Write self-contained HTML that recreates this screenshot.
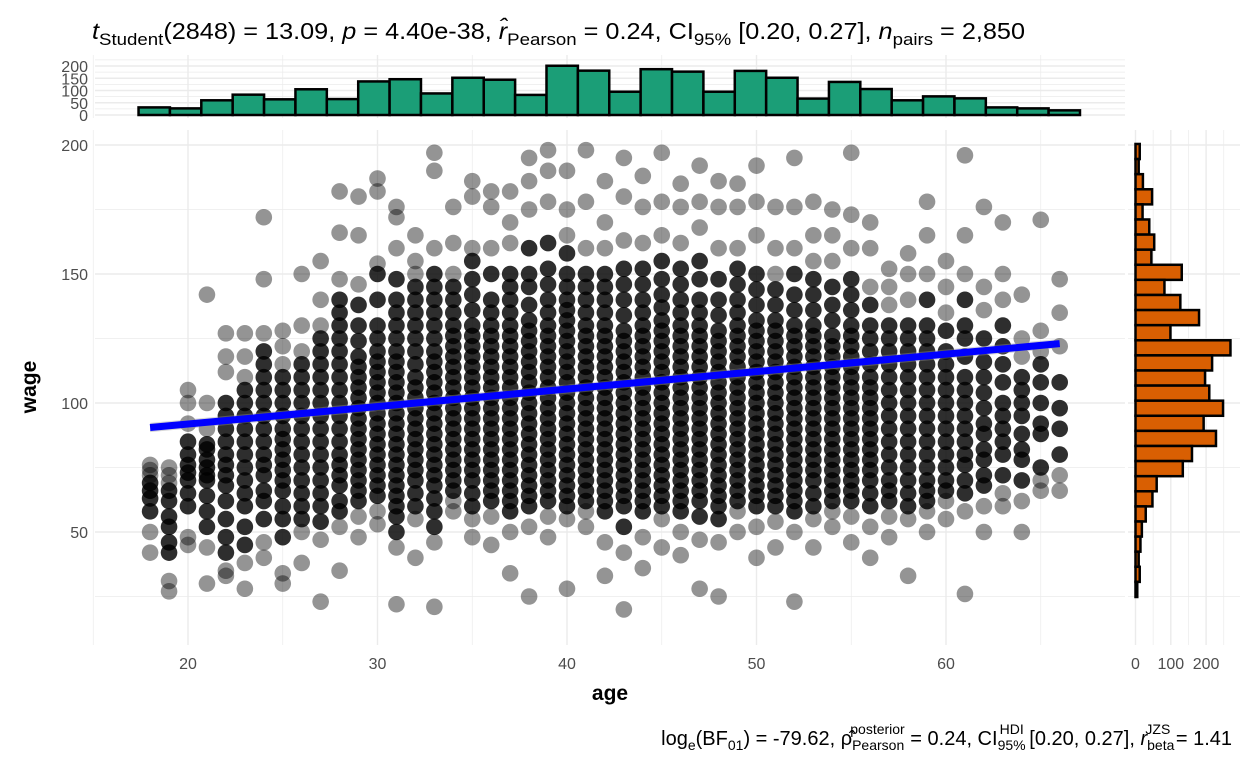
<!DOCTYPE html>
<html><head><meta charset="utf-8">
<style>
html,body{margin:0;padding:0;background:#fff;}
svg{display:block;font-family:"Liberation Sans",Arial,sans-serif;}
</style></head>
<body>
<svg id="chart" width="1248" height="768" viewBox="0 0 1248 768" xmlns="http://www.w3.org/2000/svg">
<rect width="1248" height="768" fill="#fff"/>
<g id="grid"></g>
<g id="tophist"></g>
<g id="righthist"></g>
<g id="points"></g>
<g id="fit"></g>
<g id="ticks" font-size="16" fill="#4d4d4d"></g>
<text x="610" y="700" font-size="21" font-weight="bold" text-anchor="middle">age</text>
<text x="0" y="0" font-size="21" font-weight="bold" text-anchor="middle" transform="translate(36,387) rotate(-90)">wage</text>
<text x="92" y="39" font-size="23" textLength="933" lengthAdjust="spacingAndGlyphs"><tspan font-style="italic">t</tspan><tspan font-size="17" dy="6">Student</tspan><tspan dy="-6">(2848) = 13.09, </tspan><tspan font-style="italic">p</tspan><tspan> = 4.40e-38, </tspan><tspan font-style="italic">r̂</tspan><tspan font-size="17" dy="6">Pearson</tspan><tspan dy="-6"> = 0.24, CI</tspan><tspan font-size="17" dy="6">95%</tspan><tspan dy="-6"> [0.20, 0.27], </tspan><tspan font-style="italic">n</tspan><tspan font-size="17" dy="6">pairs</tspan><tspan dy="-6"> = 2,850</tspan></text>
<text x="1232" y="745" font-size="20" text-anchor="end">log<tspan font-size="14" dy="5">e</tspan><tspan dy="-5">(BF</tspan><tspan font-size="14" dy="5">01</tspan><tspan dy="-5">) = -79.62, ρ̂</tspan><tspan font-size="14" dy="5">Pearson</tspan><tspan font-size="14" dx="-54" dy="-16">posterior</tspan><tspan dy="11"> = 0.24, CI</tspan><tspan font-size="14" dy="5">95%</tspan><tspan font-size="14" dx="-26" dy="-16">HDI</tspan><tspan dy="11"> [0.20, 0.27], </tspan><tspan font-style="italic">r</tspan><tspan font-size="14" dy="5">beta</tspan><tspan font-size="14" dx="-29" dy="-16">JZS</tspan><tspan dy="11"> = 1.41</tspan></text>
</svg>
<script>
const ages=[18,19,20,21,22,23,24,25,26,27,28,29,30,31,32,33,34,35,36,37,38,39,40,41,42,43,44,45,46,47,48,49,50,51,52,53,54,55,56,57,58,59,60,61,62,63,64,65,66];
const wageByAge=[
[42,50,58,63,66,69,72,74,76],
[27,31,42,46,52,56,62,66,69,72,75],
[45,48,60,65,70,73,76,80,85,92,100,105],
[30,44,52,58,64,70,72,75,78,82,84,90,100,142],
[33,35,42,48,55,62,68,72,76,80,85,90,95,100,112,118,127],
[28,38,45,52,60,65,70,75,80,85,90,95,100,105,110,118,127],
[40,46,55,62,66,72,76,80,85,90,95,100,105,110,115,120,127,148,172],
[30,34,48,55,60,66,70,74,78,82,86,90,95,100,105,110,115,122,128],
[38,50,55,60,65,70,75,80,85,90,95,100,105,110,115,120,130,150],
[23,47,54,60,65,70,75,80,85,90,95,100,105,110,115,120,125,130,140,155],
[35,52,58,62,68,72,76,80,85,90,95,100,105,110,115,120,125,130,135,140,148,166,182],
[48,56,62,66,70,74,78,82,86,90,94,98,102,106,110,114,118,124,130,138,146,165,180],
[53,58,64,68,72,76,80,84,88,92,96,100,104,108,112,116,120,125,130,140,150,154,182,187],
[22,44,50,56,60,64,68,72,76,80,84,88,92,96,100,104,108,112,116,120,125,130,135,140,148,160,172,176],
[40,55,60,65,70,74,78,82,86,90,94,98,102,106,110,115,120,125,130,135,140,145,150,155,165],
[21,46,52,58,63,68,72,76,80,84,88,92,96,100,104,108,112,116,120,125,130,135,140,145,150,160,190,197],
[58,62,66,70,74,78,82,86,90,94,98,102,106,110,114,118,122,126,130,135,140,145,150,162,176],
[48,55,60,65,70,74,78,82,86,90,94,98,102,106,110,114,118,122,126,130,136,142,148,155,160,180,186],
[45,56,62,66,70,74,78,82,86,90,94,98,102,106,110,114,118,122,126,130,135,140,150,160,176,182],
[34,50,58,62,66,70,74,78,82,86,90,94,98,102,106,110,114,118,122,126,130,135,140,145,150,162,170,182],
[25,52,60,64,68,72,76,80,84,88,92,96,100,104,108,112,116,120,124,128,132,138,145,150,160,175,186,195],
[48,56,62,66,70,74,78,82,86,90,94,98,102,106,110,114,118,122,126,130,135,140,146,152,162,178,190,198],
[28,55,60,64,68,72,76,80,84,88,92,96,100,104,108,112,116,120,124,128,132,136,140,145,150,158,165,175,190],
[52,58,62,66,70,74,78,82,86,90,94,98,102,106,110,114,118,122,126,130,135,140,145,150,160,178,198],
[33,46,58,62,66,70,74,78,82,86,90,94,98,102,106,110,114,118,122,126,130,135,140,145,150,160,170,186],
[20,42,52,60,64,68,72,76,80,84,88,92,96,100,104,108,112,116,120,124,128,134,140,146,152,163,180,195],
[36,48,58,62,66,70,74,78,82,86,90,94,98,102,106,110,114,118,122,126,130,135,140,146,152,162,176,188],
[44,55,60,64,68,72,76,80,84,88,92,96,100,104,108,112,116,120,124,128,132,137,142,148,155,165,178,197],
[41,50,58,62,66,70,74,78,82,86,90,94,98,102,106,110,114,118,122,126,130,135,140,146,152,162,176,185],
[28,47,56,62,66,70,74,78,82,86,90,94,98,102,106,110,114,118,122,126,130,135,140,148,155,168,178,192],
[25,46,55,60,64,68,72,76,80,84,88,92,96,100,104,108,112,116,120,124,128,134,140,148,160,176,186],
[50,58,62,66,70,74,78,82,86,90,94,98,102,106,110,114,118,122,126,130,135,140,146,152,160,176,185],
[40,52,60,64,68,72,76,80,84,88,92,96,100,104,108,112,116,120,124,128,132,138,144,150,165,178,192],
[44,54,60,64,68,72,76,80,84,88,92,96,100,104,108,112,116,120,124,128,132,138,144,150,160,176],
[23,50,58,62,66,70,74,78,82,86,90,94,98,102,106,110,114,118,122,126,130,136,142,150,160,176,195],
[44,55,60,65,70,74,78,82,86,90,94,98,102,106,110,114,118,122,126,130,136,142,148,155,165,178],
[52,58,62,66,70,74,78,82,86,90,94,98,102,106,110,114,118,122,126,132,138,145,155,165,175],
[46,56,62,66,70,74,78,82,86,90,94,98,102,106,110,114,118,122,126,130,136,142,148,160,173,197],
[40,52,60,65,70,74,78,82,86,90,94,98,102,106,110,115,120,125,130,138,145,160,170],
[48,56,62,66,70,75,80,85,90,95,100,105,110,115,120,125,130,138,145,152],
[33,55,60,65,70,75,80,85,90,95,100,105,110,115,120,125,130,140,150,158],
[50,58,62,66,70,75,80,85,90,95,100,105,110,115,120,125,130,140,150,165,178],
[55,62,66,70,75,80,85,90,95,100,105,110,115,120,128,135,145,155],
[26,58,65,70,76,80,85,90,95,100,105,110,118,125,130,140,150,165,196],
[50,60,68,72,78,82,88,92,98,104,110,116,125,136,145,176],
[60,65,72,80,85,90,95,100,108,115,122,130,140,150,170],
[50,62,70,78,82,88,95,100,105,110,118,125,142],
[66,70,75,88,92,100,108,115,120,128,171],
[66,72,80,90,98,108,122,135,148]
];
const fitAges=[18,66];
const fitWages=[90.5,123];
const ageCounts=[31,27,60,83,64,105,65,137,146,88,152,144,82,201,181,95,187,177,95,180,152,67,135,106,60,76,68,31,27,19];
const ageBinStart=17.39, ageBinWidth=1.656;
const wageCounts=[12,9,21,47,20,39,53,45,131,82,127,180,99,269,217,197,209,248,193,228,160,134,60,48,29,18,14,9,12,5];
const wageBinTop=200.4, wageBinWidth=5.853;
const xTicks=[20,30,40,50,60];
const yTicks=[50,100,150,200];
const topTicks=[0,50,100,150,200];
const rightTicks=[0,100,200];

const NS="http://www.w3.org/2000/svg";
const X=a=>188+(a-20)*18.95;
const Y=w=>403-(w-100)*2.58;
const TH=c=>115-c*0.245;
const RH=c=>1135.5+c*0.353;
const P={l:95,r:1125,t:130,b:645};
function mk(tag,parent,attrs){const e=document.createElementNS(NS,tag);for(const k in attrs)e.setAttribute(k,attrs[k]);parent.appendChild(e);return e;}

const grid=document.getElementById('grid');
function gl(x1,y1,x2,y2,w,name){const l=mk('line',grid,{x1:x1,y1:y1,x2:x2,y2:y2,stroke:'#ebebeb','stroke-width':w});

}
for(let a=15;a<=65;a+=5){gl(X(a),P.t,X(a),P.b,a%10===0?1.4:0.7,'x-gridline');gl(X(a),55,X(a),118,a%10===0?1.4:0.7,'top-x-gridline');}
for(let w=25;w<=200;w+=25){gl(P.l,Y(w),P.r,Y(w),w%50===0?1.4:0.7,'y-gridline');gl(1128,Y(w),1240,Y(w),w%50===0?1.4:0.7,'right-y-gridline');}
for(let c=0;c<=225;c+=25){if(TH(c)>55)gl(P.l,TH(c),P.r,TH(c),c%50===0?1.4:0.7,'top-y-gridline');}
for(let c=0;c<=275;c+=50){gl(RH(c),P.t,RH(c),P.b,c%100===0?1.4:0.7,'right-x-gridline');}

const th=document.getElementById('tophist');
ageCounts.forEach((c,i)=>{const x0=X(ageBinStart+i*ageBinWidth),x1=X(ageBinStart+(i+1)*ageBinWidth);
const r=mk('rect',th,{x:x0,y:TH(c),width:x1-x0,height:115-TH(c),fill:'#1b9e77',stroke:'#000','stroke-width':2.5});

});
const rh=document.getElementById('righthist');
wageCounts.forEach((c,i)=>{const y0=Y(wageBinTop-i*wageBinWidth),y1=Y(wageBinTop-(i+1)*wageBinWidth);
const r=mk('rect',rh,{x:RH(0),y:y0,width:RH(c)-RH(0),height:y1-y0,fill:'#d95f02',stroke:'#000','stroke-width':2.5});

});

const pg=document.getElementById('points');
ages.forEach((a,i)=>{const ws=wageByAge[i];ws.forEach((w,j)=>{
const core=j>1&&j<ws.length-3;
const c=mk('circle',pg,{cx:X(a),cy:Y(w),r:8.3,fill:'#000','fill-opacity':core?0.82:0.42});

});});

const fg=document.getElementById('fit');
const band=mk('polygon',fg,{points:`${X(fitAges[0])},${Y(fitWages[0]+1.8)} ${X(fitAges[1])},${Y(fitWages[1]+1.8)} ${X(fitAges[1])},${Y(fitWages[1]-1.8)} ${X(fitAges[0])},${Y(fitWages[0]-1.8)}`,fill:'#999','fill-opacity':0.4});


const fl=mk('line',fg,{x1:X(fitAges[0]),y1:Y(fitWages[0]),x2:X(fitAges[1]),y2:Y(fitWages[1]),stroke:'#0000ff','stroke-width':7});



const tg=document.getElementById('ticks');
xTicks.forEach(a=>{const t=mk('text',tg,{x:X(a),y:669,'text-anchor':'middle'});t.textContent=a;

});
yTicks.forEach(w=>{const t=mk('text',tg,{x:88,y:Y(w)+6,'text-anchor':'end'});t.textContent=w;

});
topTicks.forEach(c=>{const t=mk('text',tg,{x:88,y:TH(c)+6,'text-anchor':'end'});t.textContent=c;

});
rightTicks.forEach(c=>{const t=mk('text',tg,{x:RH(c),y:669,'text-anchor':'middle'});t.textContent=c;

});
</script>
</body></html>
